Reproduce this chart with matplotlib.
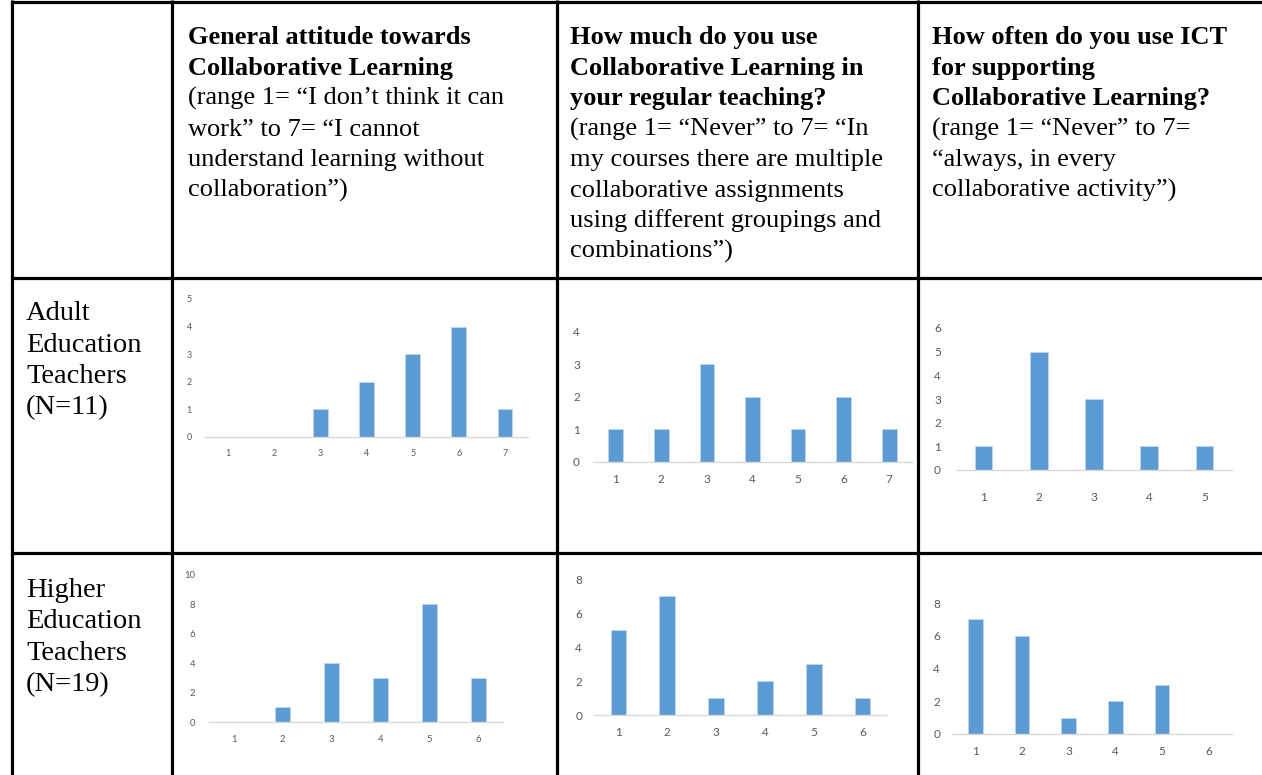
import matplotlib.pyplot as plt

# survey answers, counts per answer value
attitude_adult = [0, 0, 1, 2, 3, 4, 1]
usage_adult = [1, 1, 3, 2, 1, 2, 1]
ict_adult = [1, 5, 3, 1, 1]
attitude_higher = [0, 1, 4, 3, 8, 3]
usage_higher = [5, 7, 1, 2, 3, 1]
ict_higher = [7, 6, 1, 2, 3, 0]

# header cells: (bold lines, plain lines)
headers = [
    (["General attitude towards", "Collaborative Learning"],
     ["(range 1= \u201cI don\u2019t think it can", "work\u201d to 7= \u201cI cannot",
      "understand learning without", "collaboration\u201d)"]),
    (["How much do you use", "Collaborative Learning in", "your regular teaching?"],
     ["(range 1= \u201cNever\u201d to 7= \u201cIn", "my courses there are multiple",
      "collaborative assignments", "using different groupings and", "combinations\u201d)"]),
    (["How often do you use ICT", "for supporting", "Collaborative Learning?"],
     ["(range 1= \u201cNever\u201d to 7=", "\u201calways, in every",
      "collaborative activity\u201d)"]),
]
row_labels = [["Adult", "Education", "Teachers", "(N=11)"],
              ["Higher", "Education", "Teachers", "(N=19)"]]

W, H = 1262, 775
fig = plt.figure(figsize=(W / 100, H / 100), dpi=100)

# full-figure axes in pixel units for the table grid and text
grid = fig.add_axes([0, 0, 1, 1])
grid.set_xlim(0, W)
grid.set_ylim(H, 0)
grid.axis("off")

col_x = [12, 172, 557, 918]
row_y = [2, 278, 553]
for x in col_x:
    grid.plot([x, x], [0, H], color="black", lw=2.3, solid_capstyle="butt")
for y in row_y:
    grid.plot([col_x[0] - 1, W], [y, y], color="black", lw=2.3, solid_capstyle="butt")

serif = "Liberation Serif"
text_x = [188, 570, 932]
for (bold, plain), tx in zip(headers, text_x):
    y = 44
    for line in bold:
        grid.text(tx, y, line, fontsize=19, fontweight="bold", family=serif, va="baseline")
        y += 30.5
    for line in plain:
        grid.text(tx, y, line, fontsize=19, family=serif, va="baseline")
        y += 30.5

for labels, y in zip(row_labels, [320, 597]):
    for line in labels:
        grid.text(26, y, line, fontsize=20.5, family=serif, va="baseline")
        y += 31.5

# (data, ymax, step, left, right, top, bottom, ylabel pad, xlabel pad, font size)
charts = [
    (attitude_adult, 5, 1, 205, 528, 299, 437, 9.4, 9.0, 6.5),
    (usage_adult, 4, 1, 593, 912, 332, 462, 9.4, 8.6, 8.5),
    (ict_adult, 6, 1, 956, 1232, 328, 470, 10.8, 16.0, 8.5),
    (attitude_higher, 10, 2, 209, 503, 575, 722, 10.0, 9.4, 6.8),
    (usage_higher, 8, 2, 594, 887, 579, 715, 8.6, 9.0, 8.5),
    (ict_higher, 8, 2, 952, 1232, 603, 734, 8.6, 8.6, 8.5),
]

for vals, ymax, step, l, r, t, b, ypad, xpad, fs in charts:
    ax = fig.add_axes([l / W, 1 - b / H, (r - l) / W, (b - t) / H])
    cats = list(range(1, len(vals) + 1))
    ax.bar(cats, vals, width=0.32, color="#5B9BD5", edgecolor="#BDD7EE", linewidth=0.6)
    ax.set_xlim(0.5, len(vals) + 0.5)
    ax.set_ylim(0, ymax)
    ax.set_yticks(range(0, ymax + 1, step))
    ax.set_xticks(cats)
    ax.patch.set_alpha(0)
    for side in ["top", "right", "left"]:
        ax.spines[side].set_visible(False)
    ax.spines["bottom"].set_color("#D9D9D9")
    ax.spines["bottom"].set_linewidth(1.0)
    ax.tick_params(axis="both", length=0, labelsize=fs, labelcolor="#595959")
    ax.tick_params(axis="y", pad=ypad)
    ax.tick_params(axis="x", pad=xpad)
    for lab in ax.get_xticklabels() + ax.get_yticklabels():
        lab.set_family("Lato")

fig.savefig("out.png", dpi=100)
